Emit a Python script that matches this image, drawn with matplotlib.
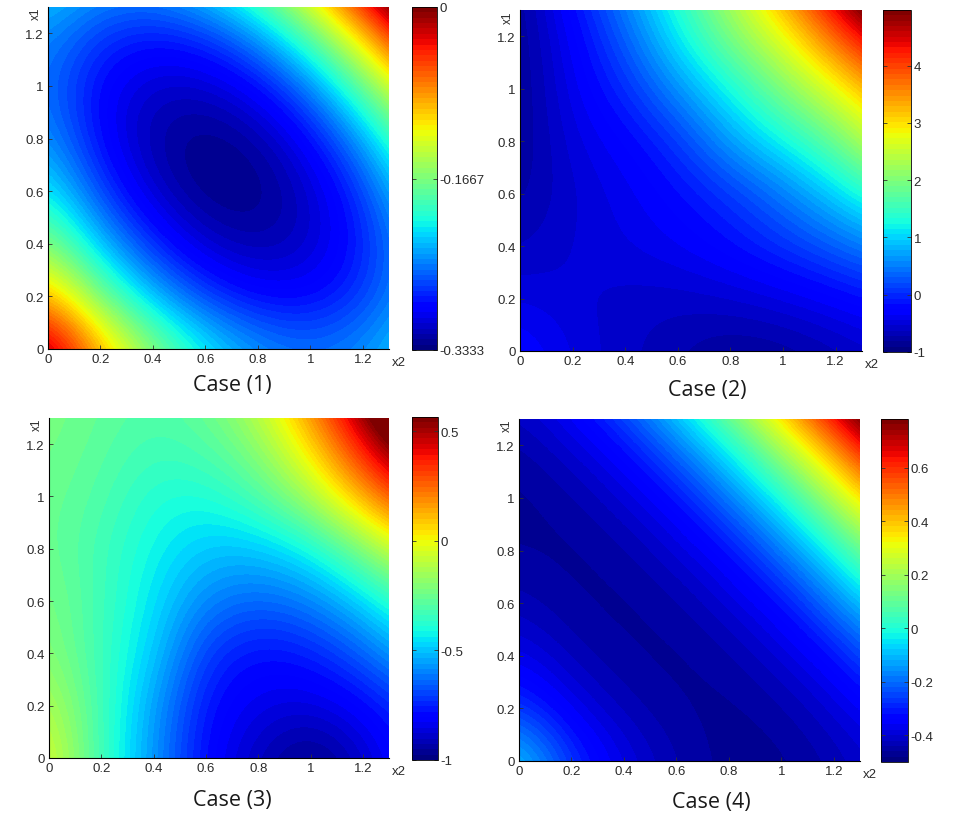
import numpy as np
import matplotlib
matplotlib.use("Agg")
import matplotlib.pyplot as plt

# grid positions (x1 rows, x2 columns) at which values were read
grid_pts = [0.0, 0.2, 0.4, 0.6, 0.8, 1.0, 1.2, 1.4]

case1 = [
    [0.000, -0.090, -0.160, -0.210, -0.241, -0.253, -0.244, -0.216],
    [-0.090, -0.169, -0.229, -0.270, -0.291, -0.292, -0.273, -0.235],
    [-0.160, -0.229, -0.279, -0.310, -0.320, -0.311, -0.283, -0.235],
    [-0.210, -0.270, -0.310, -0.330, -0.330, -0.311, -0.273, -0.210],
    [-0.241, -0.291, -0.320, -0.330, -0.321, -0.292, -0.240, -0.165],
    [-0.253, -0.292, -0.311, -0.311, -0.292, -0.250, -0.180, -0.095],
    [-0.244, -0.273, -0.283, -0.273, -0.240, -0.180, -0.100, -0.010],
    [-0.216, -0.235, -0.235, -0.210, -0.165, -0.095, -0.010, 0.090],
]
case2 = [
    [-0.20, -0.45, -0.60, -0.72, -0.85, -0.82, -0.70, -0.55],
    [-0.45, -0.52, -0.58, -0.60, -0.55, -0.45, -0.30, -0.12],
    [-0.65, -0.52, -0.45, -0.35, -0.18, 0.05, 0.30, 0.60],
    [-0.78, -0.55, -0.40, -0.20, 0.05, 0.45, 0.97, 1.60],
    [-0.85, -0.47, -0.28, 0.05, 0.70, 1.20, 1.80, 2.80],
    [-0.87, -0.38, 0.00, 0.60, 1.24, 2.00, 2.73, 3.58],
    [-0.87, -0.30, 0.30, 1.15, 2.00, 2.73, 3.80, 4.86],
    [-0.85, -0.10, 0.60, 1.50, 2.40, 3.55, 4.86, 6.30],
]
case3 = [
    [-0.03, -0.34, -0.57, -0.80, -0.91, -1.00, -0.90, -0.75],
    [-0.11, -0.33, -0.55, -0.78, -0.85, -0.87, -0.81, -0.70],
    [-0.19, -0.34, -0.48, -0.72, -0.79, -0.76, -0.66, -0.50],
    [-0.22, -0.33, -0.45, -0.60, -0.65, -0.61, -0.48, -0.30],
    [-0.25, -0.33, -0.42, -0.50, -0.50, -0.42, -0.22, 0.02],
    [-0.25, -0.30, -0.39, -0.40, -0.31, -0.14, 0.14, 0.38],
    [-0.23, -0.28, -0.33, -0.30, -0.19, 0.06, 0.40, 0.72],
    [-0.22, -0.26, -0.30, -0.25, -0.08, 0.22, 0.62, 1.00],
]
case4 = [
    [-0.06, -0.27, -0.38, -0.44, -0.47, -0.47, -0.44, -0.39],
    [-0.26, -0.37, -0.43, -0.46, -0.47, -0.45, -0.40, -0.33],
    [-0.37, -0.43, -0.46, -0.47, -0.45, -0.40, -0.33, -0.19],
    [-0.43, -0.46, -0.47, -0.45, -0.40, -0.33, -0.19, -0.02],
    [-0.46, -0.47, -0.45, -0.40, -0.33, -0.19, -0.02, 0.21],
    [-0.47, -0.45, -0.40, -0.33, -0.19, -0.02, 0.21, 0.47],
    [-0.45, -0.40, -0.33, -0.19, -0.02, 0.21, 0.47, 0.78],
    [-0.40, -0.33, -0.19, -0.02, 0.21, 0.47, 0.78, 1.08],
]

color_limits = [(-0.3333, 0.0), (-1.0, 4.97), (-1.0, 0.564), (-0.5, 0.783)]
cbar_ticks = [
    [-0.3333, -0.1667, 0.0],
    [-1, 0, 1, 2, 3, 4],
    [-1, -0.5, 0, 0.5],
    [-0.4, -0.2, 0, 0.2, 0.4, 0.6],
]
cbar_labels = [
    ["-0.3333", "-0.1667", "0"],
    ["-1", "0", "1", "2", "3", "4"],
    ["-1", "-0.5", "0", "0.5"],
    ["-0.4", "-0.2", "0", "0.2", "0.4", "0.6"],
]
axis_ticks = [0, 0.2, 0.4, 0.6, 0.8, 1.0, 1.2]
axis_tick_labels = ["0", "0.2", "0.4", "0.6", "0.8", "1", "1.2"]
captions = ["Case (1)", "Case (2)", "Case (3)", "Case (4)"]
fields = [case1, case2, case3, case4]

W, H = 976, 828
fig = plt.figure(figsize=(W / 100, H / 100), dpi=100)

def frac(l, t, r, b):
    return [l / W, 1 - b / H, (r - l) / W, (b - t) / H]

ax_boxes = [(48, 8, 389, 350), (520, 11, 862, 352), (49, 419, 389, 759), (519, 420, 860, 762)]
cb_boxes = [(412, 8, 437, 351), (883, 11, 911, 353), (412, 418, 438, 761), (881, 420, 908, 763)]
cap_pos = [(232, 386), (707, 391), (232, 801), (711, 803)]

cmap = plt.get_cmap("jet", 64)
tick_font = dict(family="Liberation Sans", size=9.5)
txt_col = "#2a2a2a"

for k in range(4):
    ax = fig.add_axes(frac(*ax_boxes[k]))
    Z = np.array(fields[k])
    step = grid_pts[1] - grid_pts[0]
    ext = [grid_pts[0] - step / 2, grid_pts[-1] + step / 2,
           grid_pts[0] - step / 2, grid_pts[-1] + step / 2]
    vmin, vmax = color_limits[k]
    im = ax.imshow(Z, origin="lower", extent=ext, cmap=cmap, vmin=vmin, vmax=vmax,
                   interpolation="bicubic", interpolation_stage="data", aspect="auto")
    ax.set_xlim(0, 1.3)
    ax.set_ylim(0, 1.3)
    ax.set_xticks(axis_ticks)
    ax.set_yticks(axis_ticks)
    ax.set_xticklabels(axis_tick_labels, **tick_font, color=txt_col)
    ax.set_yticklabels(axis_tick_labels, **tick_font, color=txt_col)
    ax.tick_params(direction="in", length=3, width=0.6, pad=3, colors="#333333",
                   labelcolor=txt_col, top=False, right=False)
    for s in ["top", "right"]:
        ax.spines[s].set_visible(False)
    for s in ["left", "bottom"]:
        ax.spines[s].set_linewidth(0.8)
        ax.spines[s].set_color("black")
    ax.text(-0.035, 1.0, "x1", transform=ax.transAxes, rotation=90, ha="center",
            va="top", fontfamily="Liberation Sans", fontsize=8.5, color=txt_col)
    ax.text(1.008, -0.038, "x2", transform=ax.transAxes, ha="left", va="center",
            fontfamily="Liberation Sans", fontsize=9.5, color=txt_col)

    cax = fig.add_axes(frac(*cb_boxes[k]))
    cb = fig.colorbar(im, cax=cax, ticks=cbar_ticks[k])
    cb.ax.set_yticklabels(cbar_labels[k], **tick_font, color=txt_col)
    cb.ax.tick_params(direction="in", length=3, width=0.6, left=True, right=True,
                      pad=2, colors="#333333", labelcolor=txt_col)
    cb.outline.set_linewidth(0.6)

    fig.text(cap_pos[k][0] / W, 1 - cap_pos[k][1] / H, captions[k], ha="center",
             va="center", fontfamily="Open Sans", fontsize=15.5, color="#1a1a1a")

fig.savefig("out.png", dpi=100)
